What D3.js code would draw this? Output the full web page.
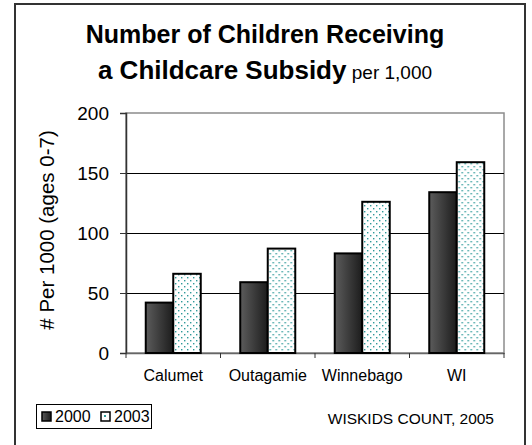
<!DOCTYPE html>
<html>
<head>
<meta charset="UTF-8">
<title>Childcare Subsidy</title>
<script src="https://d3js.org/d3.v7.min.js"></script>
<style>
  body { margin: 0; background: #fff; }
  text { font-family: Arial, "Liberation Sans", sans-serif; fill: #000; }
</style>
</head>
<body>
<div id="chart"></div>
<script>
// data
var counties = ["Calumet", "Outagamie", "Winnebago", "WI"];
var years = ["2000", "2003"];
var values2000 = [42, 59, 83, 134];
var values2003 = [66, 87, 126, 159];
var yTicks = [0, 50, 100, 150, 200];

var width = 532, height = 445;
var plot = { left: 126, right: 504, top: 113, bottom: 353 };

var svg = d3.select("#chart").append("svg")
    .attr("width", width)
    .attr("height", height);

var defs = svg.append("defs");

// dark bar gradient
var grad = defs.append("linearGradient").attr("id", "darkGrad")
    .attr("x1", "0%").attr("x2", "100%").attr("y1", "0%").attr("y2", "0%");
grad.append("stop").attr("offset", "0%").attr("stop-color", "#5c5c5c");
grad.append("stop").attr("offset", "100%").attr("stop-color", "#1c1c1c");

// teal dotted pattern
var pat = defs.append("pattern").attr("id", "dots")
    .attr("patternUnits", "userSpaceOnUse")
    .attr("width", 6).attr("height", 6);
pat.append("rect").attr("width", 6).attr("height", 6).attr("fill", "#fff");
pat.append("rect").attr("x", 1).attr("y", 1).attr("width", 1.4).attr("height", 1.4).attr("fill", "#2f9a9a");
pat.append("rect").attr("x", 4).attr("y", 4).attr("width", 1.4).attr("height", 1.4).attr("fill", "#2f9a9a");

// outer frame
svg.append("rect")
    .attr("x", 15).attr("y", 4)
    .attr("width", 510).attr("height", 470)
    .attr("fill", "none")
    .attr("stroke", "#333")
    .attr("stroke-width", 2);

// title
var t1 = svg.append("text").attr("x", 265).attr("y", 43).attr("text-anchor", "middle")
    .style("font-size", "25px").style("font-weight", "bold")
    .text("Number of Children Receiving");
var t2 = svg.append("text").attr("x", 265).attr("y", 79).attr("text-anchor", "middle");
t2.append("tspan").style("font-size", "26px").style("font-weight", "bold").text("a Childcare Subsidy");
t2.append("tspan").style("font-size", "19px").text(" per 1,000");

// scales
var x = d3.scaleBand().domain(counties).range([plot.left, plot.right]).padding(0);
var groupW = 55;
var xs = d3.scaleBand().domain(years)
    .range([(x.bandwidth() - groupW) / 2, (x.bandwidth() + groupW) / 2]);
var y = d3.scaleLinear().domain([0, 200]).range([plot.bottom, plot.top]);

// plot border (top/right grey)
svg.append("rect")
    .attr("x", plot.left).attr("y", plot.top)
    .attr("width", plot.right - plot.left).attr("height", plot.bottom - plot.top)
    .attr("fill", "none").attr("stroke", "#8c8c8c").attr("stroke-width", 1.5);

// gridlines
svg.append("g").selectAll("line")
    .data(yTicks.filter(function(d) { return d > 0 && d < 200; }))
    .enter().append("line")
    .attr("x1", plot.left).attr("x2", plot.right)
    .attr("y1", function(d) { return Math.round(y(d)) + 0.5; })
    .attr("y2", function(d) { return Math.round(y(d)) + 0.5; })
    .attr("stroke", "#000").attr("stroke-width", 1);

// y axis
var yAxis = svg.append("g")
    .attr("transform", "translate(" + plot.left + ",0)")
    .call(d3.axisLeft(y).tickValues(yTicks).tickSize(6).tickPadding(11));
yAxis.select(".domain").attr("stroke", "#333").attr("stroke-width", 1.5);
yAxis.selectAll(".tick line").attr("stroke", "#333");
yAxis.selectAll("text").style("font-size", "19px").attr("fill", "#000")
    .style("font-family", "Arial, 'Liberation Sans', sans-serif");

// x axis
var xAxis = svg.append("g")
    .attr("transform", "translate(0," + plot.bottom + ")")
    .call(d3.axisBottom(x).tickSize(0).tickPadding(17));
xAxis.select(".domain").attr("stroke", "#666").attr("stroke-width", 1.5);
xAxis.selectAll("text").style("font-size", "16px").attr("fill", "#000")
    .style("font-family", "Arial, 'Liberation Sans', sans-serif");
// boundary ticks between categories
svg.append("g").selectAll("line")
    .data(counties.concat(["end"]))
    .enter().append("line")
    .attr("x1", function(d, i) { return i < counties.length ? x(d) : plot.right; })
    .attr("x2", function(d, i) { return i < counties.length ? x(d) : plot.right; })
    .attr("y1", plot.bottom).attr("y2", plot.bottom + 5)
    .attr("stroke", "#333");

// bars
var rows = counties.map(function(c, i) {
  return { county: c, vals: [values2000[i], values2003[i]] };
});
var groups = svg.append("g").selectAll("g")
    .data(rows).enter().append("g")
    .attr("transform", function(d) { return "translate(" + x(d.county) + ",0)"; });
groups.selectAll("rect")
    .data(function(d) { return d.vals.map(function(v, j) { return { year: years[j], v: v }; }); })
    .enter().append("rect")
    .attr("x", function(d) { return xs(d.year); })
    .attr("width", xs.bandwidth())
    .attr("y", function(d) { return y(d.v); })
    .attr("height", function(d) { return y(0) - y(d.v); })
    .attr("fill", function(d) { return d.year === "2000" ? "url(#darkGrad)" : "url(#dots)"; })
    .attr("stroke", "#000")
    .attr("stroke-width", 2);

// y axis title
svg.append("text")
    .attr("transform", "translate(54,230) rotate(-90)")
    .attr("text-anchor", "middle")
    .style("font-size", "20.5px")
    .text("# Per 1000 (ages 0-7)");

// legend
var lg = svg.append("g");
lg.append("rect").attr("x", 36.5).attr("y", 404.5).attr("width", 115).attr("height", 24)
    .attr("fill", "#fff").attr("stroke", "#000").attr("stroke-width", 1);
var legX = [42, 101];
years.forEach(function(yr, i) {
  lg.append("rect").attr("x", legX[i]).attr("y", 412).attr("width", 9).attr("height", 9)
      .attr("fill", i === 0 ? "url(#darkGrad)" : "#fff")
      .attr("stroke", "#000").attr("stroke-width", 1.5);
  if (i === 1) {
    lg.append("rect").attr("x", legX[i] + 3).attr("y", 415).attr("width", 2).attr("height", 2).attr("fill", "#2f9a9a");
  }
  lg.append("text").attr("x", legX[i] + 13).attr("y", 422)
      .style("font-size", "16px").text(yr);
});

// source
svg.append("text")
    .attr("x", 494).attr("y", 424)
    .attr("text-anchor", "end")
    .style("font-size", "15.5px")
    .text("WISKIDS COUNT, 2005");
</script>
</body>
</html>
